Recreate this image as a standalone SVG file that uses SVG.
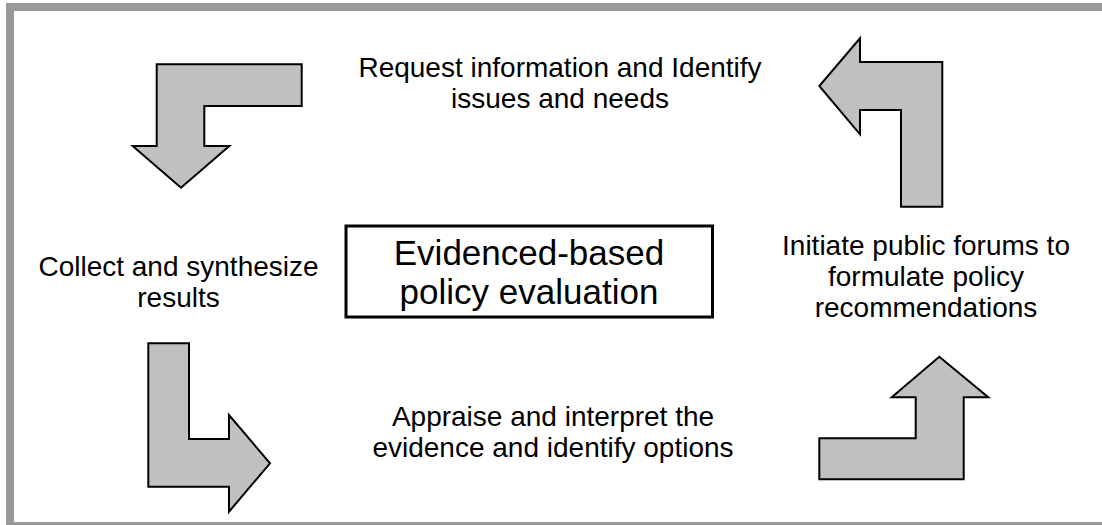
<svg xmlns="http://www.w3.org/2000/svg" width="1102" height="525" viewBox="0 0 1102 525">
  <style>
    .arrow { fill: #c0c0c0; stroke: #000000; stroke-width: 2; stroke-linejoin: miter; }
    .label { font-family: "Liberation Sans", Arial, sans-serif; font-size: 28px; fill: #000000; text-anchor: middle; }
    .title { font-family: "Liberation Sans", Arial, sans-serif; font-size: 35px; fill: #000000; text-anchor: middle; }
  </style>
  <rect x="0" y="0" width="1102" height="525" fill="#ffffff"/>
  <!-- outer frame, running off the right and bottom edges -->
  <rect x="10" y="7" width="1110" height="519" fill="none" stroke="#999999" stroke-width="8"/>

  <g id="cycle-arrows">
    <!-- top-left: turns down -->
    <polygon class="arrow" points="156.7,64.3 301.7,64.3 301.7,106 204.3,106 204.3,146 229.3,146 181,187.7 132.7,146 156.7,146"/>
    <!-- top-right: turns left -->
    <polygon class="arrow" points="860,38.3 860,62 942.3,62 942.3,206.7 901,206.7 901,110 860,110 860,134.3 819.3,86"/>
    <!-- bottom-left: turns right -->
    <polygon class="arrow" points="148.3,343.3 189,343.3 189,439 229,439 229,415 270,463.3 229,511.7 229,486.7 148.3,486.7"/>
    <!-- bottom-right: turns up -->
    <polygon class="arrow" points="819.3,438.3 915.7,438.3 915.7,397.3 891.7,397.3 939.3,356.7 988.3,397.3 963.7,397.3 963.7,479.3 819.3,479.3"/>
  </g>

  <g id="center-node">
    <rect x="346" y="226" width="366.5" height="91" fill="#ffffff" stroke="#000000" stroke-width="3"/>
    <text class="title" x="529" y="265">Evidenced-based</text>
    <text class="title" x="529" y="304">policy evaluation</text>
  </g>

  <g id="step-request">
    <text class="label" x="560" y="77">Request information and Identify</text>
    <text class="label" x="560" y="108">issues and needs</text>
  </g>

  <g id="step-collect">
    <text class="label" x="178.5" y="276">Collect and synthesize</text>
    <text class="label" x="178.5" y="307">results</text>
  </g>

  <g id="step-appraise">
    <text class="label" x="553" y="426">Appraise and interpret the</text>
    <text class="label" x="553" y="457">evidence and identify options</text>
  </g>

  <g id="step-forums">
    <text class="label" x="926" y="255">Initiate public forums to</text>
    <text class="label" x="926" y="286">formulate policy</text>
    <text class="label" x="926" y="317">recommendations</text>
  </g>
</svg>
